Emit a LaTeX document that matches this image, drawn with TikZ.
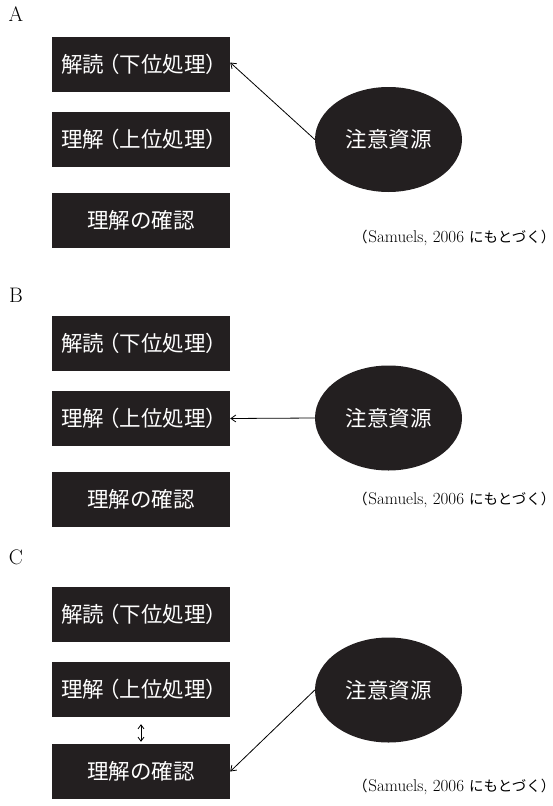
\documentclass[tikz,border=0pt]{standalone}
\usepackage{fontspec}
\usetikzlibrary{arrows.meta,shapes.geometric}
\newfontfamily\jp{Noto Sans CJK JP}
\definecolor{boxk}{RGB}{35,31,32}
\newcommand{\lp}{\kern-.3em（}
\newcommand{\rp}{）\kern-.3em}
\newcommand{\citetext}{{\jp\fontsize{14.5}{16}\selectfont （\kern.05em}{\rmfamily\fontsize{17}{18}\selectfont Samuels, 2006 }{\jp\fontsize{14.5}{16}\selectfont にもとづく）\kern-.45em}}
\begin{document}
\begin{tikzpicture}[x=1pt,y=-1pt,
  pbox/.style={fill=boxk, minimum width=178pt, minimum height=55pt, inner sep=0pt,
    text=white, font=\jp\fontsize{21.5}{24}\selectfont},
  res/.style={ellipse, fill=boxk, minimum width=147pt, minimum height=105pt, inner sep=0pt,
    text=white, font=\jp\fontsize{21.5}{24}\selectfont},
  arr/.style={-{Straight Barb[length=5pt,width=7pt]}, line width=0.8pt, draw=black},
  dbl/.style={{Straight Barb[length=4pt,width=6pt]}-{Straight Barb[length=4pt,width=6pt]}, line width=0.8pt, draw=black},
  plabel/.style={font=\fontsize{21}{24}\selectfont, inner sep=0pt},
  cite/.style={anchor=east, inner sep=0pt}]
\useasboundingbox (0,0) rectangle (553,806);

% ---- Panel A
\node[plabel] (la) at (16,14) {A};
\node[pbox] (a1) at (141,64.5) {解読\lp 下位処理\rp};
\node[pbox] (a2) at (141,139.5) {理解\lp 上位処理\rp};
\node[pbox] (a3) at (141,220.5) {理解の確認};
\node[res] (ae) at (388.5,139.5) {注意資源};
\node[cite] (ac) at (549,238) {\citetext};
\draw[arr] (ae.west) -- ([yshift=2pt]a1.east);

% ---- Panel B
\node[plabel] (lb) at (16,295) {B};
\node[pbox] (b1) at (141,343.5) {解読\lp 下位処理\rp};
\node[pbox] (b2) at (141,418.5) {理解\lp 上位処理\rp};
\node[pbox] (b3) at (141,499.5) {理解の確認};
\node[res] (be) at (388.5,418) {注意資源};
\node[cite] (bc) at (549,500) {\citetext};
\draw[arr] (be.west) -- (b2.east);

% ---- Panel C
\node[plabel] (lc) at (16,557) {C};
\node[pbox] (c1) at (141,614.5) {解読\lp 下位処理\rp};
\node[pbox] (c2) at (141,689.5) {理解\lp 上位処理\rp};
\node[pbox] (c3) at (141,771.5) {理解の確認};
\node[res] (ce) at (388.5,690) {注意資源};
\node[cite] (cc) at (549,787) {\citetext};
\draw[arr] (ce.west) -- (c3.east);
\draw[dbl, shorten <=7pt, shorten >=2pt] (c2.south) -- (c3.north);
\end{tikzpicture}
\end{document}
